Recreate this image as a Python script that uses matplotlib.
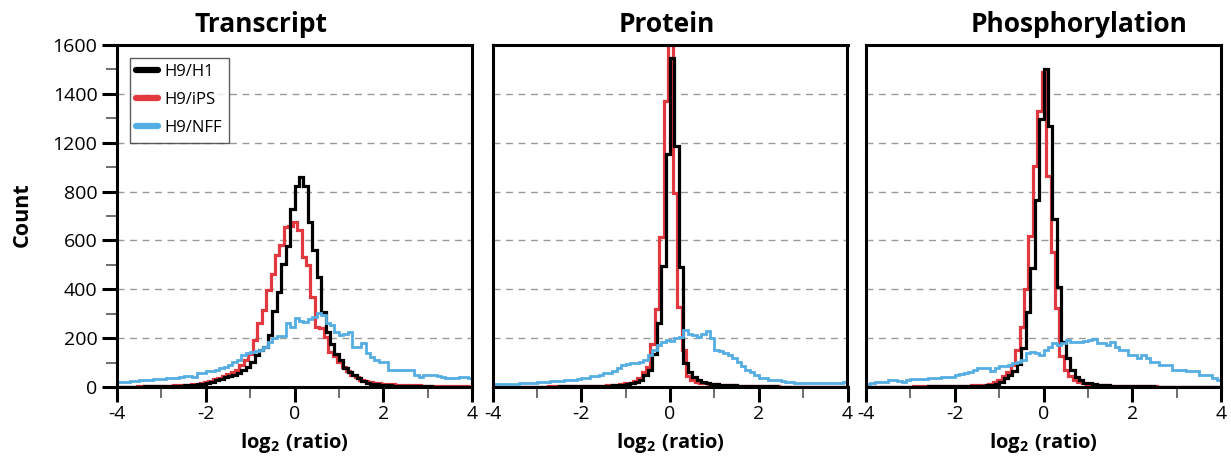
import numpy as np
import matplotlib
matplotlib.use("Agg")
import matplotlib.pyplot as plt
from matplotlib.ticker import MultipleLocator, FixedLocator
from matplotlib.lines import Line2D

plt.rcParams['font.family'] = ['Open Sans', 'DejaVu Sans']
plt.rcParams['mathtext.fontset'] = 'custom'
plt.rcParams['mathtext.bf'] = 'Open Sans:bold'
plt.rcParams['mathtext.rm'] = 'Open Sans'

# ---- data: counts per 0.1-wide log2(ratio) bin from -4 to 4 ----
bin_edges = np.round(np.arange(-4.0, 4.0001, 0.1), 2)
panel_titles = ["Transcript", "Protein", "Phosphorylation"]
series_names = ["H9/H1", "H9/iPS", "H9/NFF"]
ytick_values = [0, 200, 400, 600, 800, 1000, 1200, 1400]
ytick_labels = ["0", "200", "400", "600", "800", "1200", "1400", "1600"]
xtick_values = [-4, -2, 0, 2, 4]

transcript_h1 = [1,1,2,2,2,2,3,3,3,4,
                 4,5,5,6,6,7,8,9,11,13,
                 18,22,27,31,40,44,50,56,69,83,
                 103,131,150,164,212,310,389,505,579,729,
                 824,858,824,675,559,450,307,226,178,137,
                 110,76,63,49,35,26,18,14,11,9,
                 8,7,6,5,5,4,4,3,3,3,
                 3,2,2,2,2,2,1,1,1,1]
transcript_ips = [1,1,2,2,2,3,3,3,4,4,
                  5,5,6,7,8,9,10,12,14,17,
                  22,26,31,38,45,52,62,69,90,110,
                  135,192,261,314,396,464,539,580,654,661,
                  675,641,532,498,368,246,240,205,144,125,
                  103,80,65,50,40,30,24,20,17,15,
                  13,12,11,10,9,8,8,7,7,6,
                  6,6,5,5,5,4,4,4,4,3]
transcript_nff = [20,22,22,24,25,27,28,29,31,32,
                  34,35,36,38,41,47,47,40,57,57,
                  64,66,71,78,82,91,104,110,131,138,
                  144,148,151,165,185,200,207,210,261,247,
                  281,271,267,277,285,301,294,261,254,226,
                  212,219,226,165,165,179,138,124,110,104,
                  104,71,71,71,68,68,68,50,41,50,
                  50,48,47,40,35,35,38,41,41,35]

protein_h1 = [1,1,1,1,1,1,1,2,2,2,
              2,2,2,2,2,3,3,3,3,3,
              3,4,4,4,5,5,6,7,8,10,
              12,15,22,29,49,69,137,260,495,954,
              1345,988,491,100,63,39,29,22,16,14,
              12,10,9,8,7,6,5,5,4,4,
              3,3,3,3,2,2,2,2,2,2,
              2,1,1,1,1,1,1,1,1,1]
protein_ips = [1,1,1,1,1,1,2,2,2,2,
               2,2,2,3,3,3,3,3,4,4,
               4,5,5,5,6,6,7,8,10,12,
               15,18,25,35,60,80,175,318,613,1171,
               1430,795,326,151,45,30,22,18,15,12,
               11,10,9,8,7,6,5,5,4,4,
               3,3,3,3,3,2,2,2,2,2,
               2,2,1,1,1,1,1,1,1,1]
protein_nff = [12,12,13,13,14,14,15,16,17,18,
               20,21,22,23,24,26,27,28,30,32,
               37,38,44,46,50,56,58,64,78,91,
               96,100,98,104,110,131,151,171,185,192,
               190,199,205,233,219,212,205,219,230,199,
               151,148,140,131,120,104,84,71,60,50,
               37,35,29,28,27,25,22,20,18,18,
               18,18,18,18,18,17,16,15,15,20]

phospho_h1 = [1,1,1,1,1,1,1,2,2,2,
              2,2,2,2,3,3,3,3,3,4,
              4,4,5,5,5,6,6,7,8,12,
              22,35,49,66,95,158,305,488,766,1097,
              1301,1069,688,409,185,118,69,39,27,18,
              15,12,10,8,7,6,5,5,4,4,
              3,3,3,3,3,2,2,2,2,2,
              2,2,1,1,1,1,1,1,1,1]
phospho_ips = [1,1,1,1,1,2,2,2,2,2,
               2,3,3,3,3,3,4,4,4,5,
               5,5,6,6,7,8,9,10,14,20,
               30,45,60,90,150,246,403,620,906,1130,
               1290,865,551,322,125,70,45,30,20,15,
               12,10,9,8,7,6,5,5,4,4,
               4,3,3,3,3,3,2,2,2,2,
               2,2,2,1,1,1,1,1,1,1]
phospho_nff = [12,15,20,22,22,29,29,26,22,28,
               31,31,32,33,35,35,36,41,41,42,
               50,52,57,60,71,76,78,78,64,78,
               86,88,91,98,104,110,138,144,138,131,
               151,165,179,171,180,192,185,185,185,188,
               192,196,179,179,171,185,165,151,151,131,
               131,118,131,118,104,104,91,91,91,71,
               71,71,64,64,64,50,50,50,37,30]

panels = [
    (transcript_h1, transcript_ips, transcript_nff),
    (protein_h1, protein_ips, protein_nff),
    (phospho_h1, phospho_ips, phospho_nff),
]

colors = {"H9/H1": "#000000", "H9/iPS": "#E2383F", "H9/NFF": "#55AEE3"}
red_shift = -0.04

W, H = 1231, 468
fig = plt.figure(figsize=(W / 100, H / 100), dpi=100)
lefts = [117, 492.5, 866]
title_centers = [261, 667, 1079]
axw, bottom, axh = 355, 81, 342

axes = []
for i, (title, (h1, ips, nff)) in enumerate(zip(panel_titles, panels)):
    ax = fig.add_axes([lefts[i] / W, bottom / H, axw / W, axh / H])
    axes.append(ax)
    ax.set_xlim(-4, 4)
    ax.set_ylim(0, 1400)
    ax.yaxis.grid(True, linestyle=(0, (5, 4)), color='#9a9a9a', lw=1.0, zorder=0)
    ax.set_axisbelow(True)

    ax.stairs(ips, bin_edges + red_shift, baseline=None, color=colors["H9/iPS"],
              lw=2.3, label="H9/iPS", zorder=2)
    ax.stairs(h1, bin_edges, baseline=None, color=colors["H9/H1"],
              lw=2.3, label="H9/H1", zorder=3)
    ax.stairs(nff, bin_edges, baseline=None, color=colors["H9/NFF"],
              lw=2.0, label="H9/NFF", zorder=4)

    for s in ax.spines.values():
        s.set_linewidth(2.2)
        s.set_zorder(6)

    ax.xaxis.set_major_locator(FixedLocator(xtick_values))
    ax.xaxis.set_minor_locator(FixedLocator([-3, -1, 1, 3]))
    ax.set_xticklabels([str(v) for v in xtick_values])
    ax.yaxis.set_major_locator(FixedLocator(ytick_values))
    ax.yaxis.set_minor_locator(MultipleLocator(100))
    ax.tick_params(axis='both', which='major', direction='out', length=11,
                   width=2.2, labelsize=14, pad=3, color='black')
    ax.tick_params(axis='both', which='minor', direction='out', length=8,
                   width=1.2, color='#555555')
    ax.tick_params(axis='x', which='major', pad=2)
    if i == 0:
        ax.set_yticklabels(ytick_labels)
    else:
        ax.tick_params(axis='y', which='both', left=False, labelleft=False)

    fig.text(title_centers[i] / W, 1 - 24 / H, title, fontsize=19,
             fontweight='bold', ha='center', va='center')
    ax.text(0.5, -0.165, r'$\mathbf{log_2\ (ratio)}$', transform=ax.transAxes,
            ha='center', va='center', fontsize=14.5)

fig.text(22 / W, 1 - 215 / H, "Count", rotation=90, ha='center', va='center',
         fontsize=15.5, fontweight='bold')

leg_handles = [Line2D([0], [0], color=colors[n], lw=4.5, solid_capstyle='round')
               for n in series_names]
leg = axes[0].legend(leg_handles, series_names, loc='upper left',
                     bbox_to_anchor=(0.036, 0.963), fontsize=12, frameon=True,
                     fancybox=False, edgecolor='#333333', handlelength=1.3,
                     handletextpad=0.4, borderpad=0.4, labelspacing=0.72,
                     borderaxespad=0.0)
leg.get_frame().set_linewidth(1.0)

fig.savefig("out.png", dpi=100)
